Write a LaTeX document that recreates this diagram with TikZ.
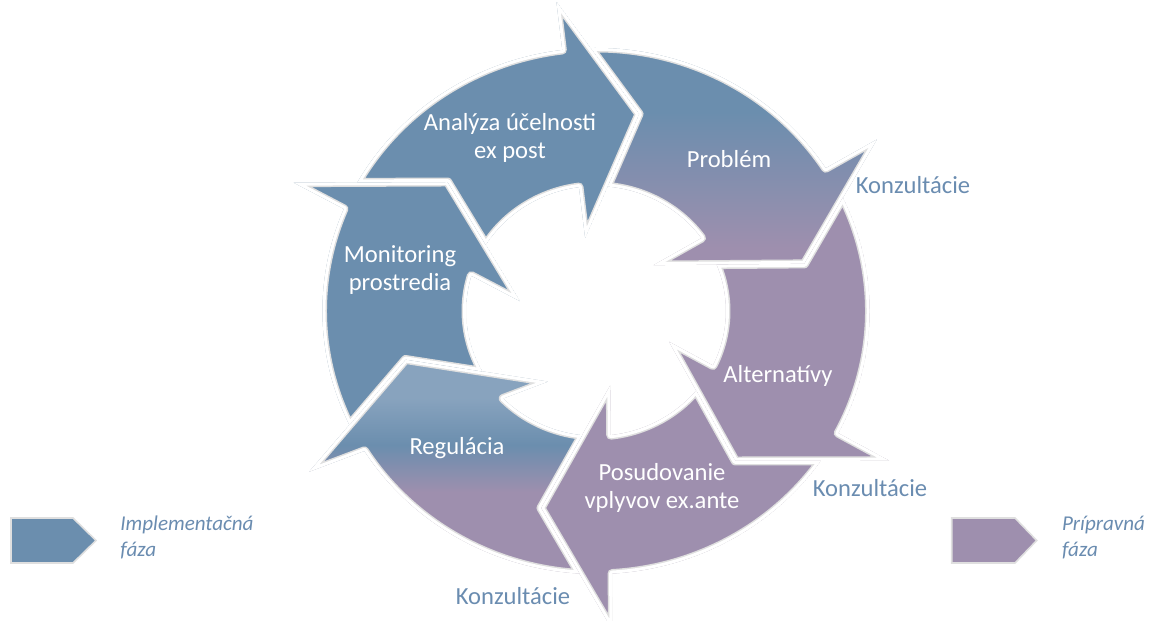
\documentclass[tikz,border=0pt]{standalone}
\usepackage{fontspec}
\setmainfont{Carlito}
\definecolor{cycblue}{HTML}{6B8EAE}
\definecolor{cycpurple}{HTML}{9E8FAE}
\definecolor{cyclight}{HTML}{88A3BE}
\definecolor{cyctext}{HTML}{6A8CB0}
\pgfdeclareverticalshading{probshade}{100bp}{color(0bp)=(cycpurple); color(29bp)=(cycpurple); color(60bp)=(cycblue); color(100bp)=(cycblue)}
\pgfdeclareverticalshading{regshade}{100bp}{color(0bp)=(cycpurple); color(44bp)=(cycpurple); color(55bp)=(cycblue); color(66bp)=(cyclight); color(100bp)=(cyclight)}
%segment outlines (outer 263, inner 125)
\newcommand{\segProb}{(91.15:263) arc[start angle=91.15,end angle=32.87,radius=263] -- (P-o) -- (P-t) -- (P-i) -- (35.68:125) arc[start angle=35.68,end angle=84.91,radius=125] -- (A-t) -- cycle}
\newcommand{\segAlt}{(25.51:263) arc[start angle=25.51,end angle=-27.68,radius=263] -- (L-o) -- (L-t) -- (L-i) -- (-25.85:125) arc[start angle=-25.85,end angle=21.79,radius=125] -- (P-t) -- cycle}
\newcommand{\segPos}{(-34.72:263) arc[start angle=-34.72,end angle=-86.64,radius=263] -- (S-o) -- (S-t) -- (S-i) -- (-83.5:125) arc[start angle=-83.5,end angle=-39.57,radius=125] -- (L-t) -- cycle}
\newcommand{\segReg}{(-93.48:263) arc[start angle=-93.48,end angle=-147.87,radius=263] -- (G-o) -- (G-t) -- (G-i) -- (-135.58:125) arc[start angle=-135.58,end angle=-96.15,radius=125] -- (S-t) -- cycle}
\newcommand{\segMon}{(205.66:263) arc[start angle=205.66,end angle=157.16,radius=263] -- (M-o) -- (M-t) -- (M-i) -- (163.58:125) arc[start angle=163.58,end angle=208.89,radius=125] -- (G-t) -- cycle}
\newcommand{\segAna}{(150.73:263) arc[start angle=150.73,end angle=97.07,radius=263] -- (A-o) -- (A-t) -- (A-i) -- (97.51:125) arc[start angle=97.51,end angle=148.01,radius=125] -- (M-t) -- cycle}

\begin{document}
\begin{tikzpicture}[x=0.02cm,y=0.02cm,
	gapline/.style={draw=gray!25,double=white,double distance=3.4pt,line width=0.85pt,line join=round},
	lab/.style={text=white,font=\fontsize{14}{16}\selectfont,inner sep=0pt,align=center},
	konz/.style={text=cyctext,font=\fontsize{14}{16}\selectfont,inner sep=0pt,anchor=base},
	leg/.style={text=cyctext,font=\fontsize{12}{15}\selectfont\itshape,inner sep=0pt,align=left,anchor=west}]
	\useasboundingbox (0,0) rectangle (1149,621);
	%CYCLE
	\begin{scope}[shift={(596,310)},xscale=1.04]
		%heads: outer barb, tip, inner barb
		\coordinate (A-o) at (-38,309.2); \coordinate (A-t) at (41.4,197); \coordinate (A-i) at (-10.4,73.1);
		\coordinate (P-o) at (269.9,171.4); \coordinate (P-t) at (200.3,47.1); \coordinate (P-i) at (55.4,45.9);
		\coordinate (L-o) at (281.9,-149.7); \coordinate (L-t) at (133.9,-150); \coordinate (L-i) at (70.3,-30.8);
		\coordinate (S-o) at (15.9,-319); \coordinate (S-t) at (-52.9,-197); \coordinate (S-i) at (13.7,-74.4);
		\coordinate (G-o) at (-275.7,-160.7); \coordinate (G-t) at (-183.1,-48.5); \coordinate (G-i) at (-46.3,-70.6);
		\coordinate (M-o) at (-290.5,128.3); \coordinate (M-t) at (-142.6,129); \coordinate (M-i) at (-73.2,9.9);
		%segments
		\begin{scope} \clip \segProb; \shade[shading=probshade] \segProb; \draw[gapline] \segProb; \end{scope}
		\begin{scope} \clip \segAlt; \fill[cycpurple] \segAlt; \draw[gapline] \segAlt; \end{scope}
		\begin{scope} \clip \segPos; \fill[cycpurple] \segPos; \draw[gapline] \segPos; \end{scope}
		\begin{scope} \clip \segReg; \shade[shading=regshade] \segReg; \draw[gapline] \segReg; \end{scope}
		\begin{scope} \clip \segMon; \fill[cycblue] \segMon; \draw[gapline] \segMon; \end{scope}
		\begin{scope} \clip \segAna; \fill[cycblue] \segAna; \draw[gapline] \segAna; \end{scope}
	\end{scope}
	%LABELS
	\node[lab] (ana) at (510,483) {Analýza účelnosti\\ex post};
	\node[lab,anchor=base] (prob) at (729,453) {Problém};
	\node[lab] (mon) at (400,350.7) {Monitoring\\prostredia};
	\node[lab,anchor=base] (alt) at (778,238) {Alternatívy};
	\node[lab,anchor=base] (reg) at (457,166) {Regulácia};
	\node[lab] (pos) at (662,132.9) {Posudovanie\\vplyvov ex.ante};
	\node[konz] (konz1) at (913,427.7) {Konzultácie};
	\node[konz] (konz2) at (870,124) {Konzultácie};
	\node[konz] (konz3) at (513,16) {Konzultácie};
	%LEGEND
	\draw[draw=gray!25,line width=0.9pt,fill=cycblue] (11,58) -- (73,58) -- (96,80.5) -- (73,103) -- (11,103) -- cycle;
	\draw[draw=gray!25,line width=0.9pt,fill=cycpurple] (951.7,58) -- (1015,58) -- (1036.7,80.5) -- (1015,103) -- (951.7,103) -- cycle;
	\node[leg] (impl) at (120,83.4) {Implementačná\\fáza};
	\node[leg] (prip) at (1061.7,83.4) {Prípravná\\fáza};
\end{tikzpicture}
\end{document}
